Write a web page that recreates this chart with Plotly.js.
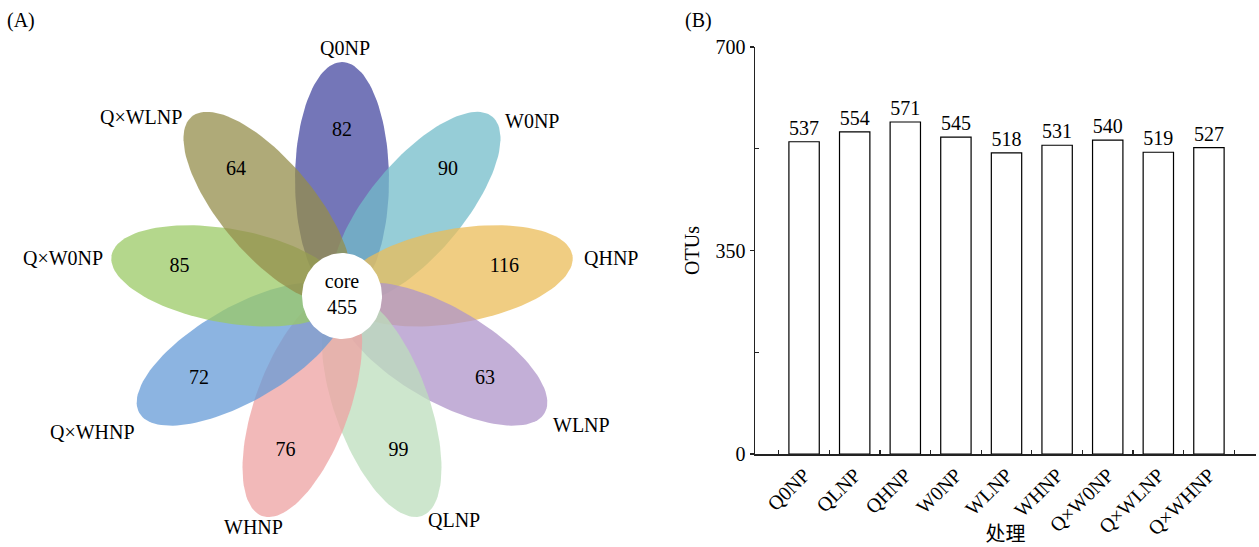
<!DOCTYPE html>
<html>
<head>
<meta charset="utf-8">
<script src="https://cdn.plot.ly/plotly-3.0.1.min.js"></script>
<style>html,body{margin:0;padding:0;background:#fff;}#chart{width:1259px;height:547px;}</style>
</head>
<body>
<div id="chart"></div>
<script>
// ---------- DATA ----------
const categories = ['Q0NP','QLNP','QHNP','W0NP','WLNP','WHNP','Q×W0NP','Q×WLNP','Q×WHNP'];
const otus = [537, 554, 571, 545, 518, 531, 540, 519, 527];
const petalNames = ['Q0NP','W0NP','QHNP','WLNP','QLNP','WHNP','Q×WHNP','Q×W0NP','Q×WLNP'];
const petalCounts = [82, 90, 116, 63, 99, 76, 72, 85, 64];
const coreLabel = 'core';
const coreCount = 455;

// ---------- STYLE / LAYOUT CONSTANTS ----------
const FONT = 'Liberation Serif, Times New Roman, Noto Sans CJK SC, serif';
const FS = 20;
const petalColors = [
  'rgba(70,72,160,0.75)',   // Q0NP
  'rgba(115,188,202,0.75)', // W0NP
  'rgba(235,188,88,0.75)',  // QHNP
  'rgba(175,148,202,0.75)', // WLNP
  'rgba(188,222,188,0.75)', // QLNP
  'rgba(238,162,162,0.75)', // WHNP
  'rgba(102,155,215,0.75)', // Q×WHNP
  'rgba(155,202,102,0.75)', // Q×W0NP
  'rgba(148,142,75,0.75)'   // Q×WLNP
];
const petalAngles = [90, 50, 10, -30, -70, -110, -150, 170, 130];
const PETAL_DIST = 116, PETAL_A = 118, PETAL_B = 47, NUM_R = 165;
const CORE_RX = 40, CORE_RY = 43;
// label placement relative to flower centre: [dx, dy, xanchor]
const labelLayout = [
  [3, 248, 'center'], [161, 175, 'left'], [240, 38, 'left'], [209, -129, 'left'],
  [112, -224, 'center'], [-89, -231, 'center'], [-205, -136, 'right'],
  [-237, 38, 'right'], [-158, 179, 'right']
];

const traces = [];
const rad = Math.PI / 180;
petalAngles.forEach((ang, i) => {
  const t = ang * rad;
  const cx = PETAL_DIST * Math.cos(t), cy = PETAL_DIST * Math.sin(t);
  const xs = [], ys = [];
  for (let k = 0; k <= 120; k++) {
    const p = 2 * Math.PI * k / 120;
    const ex = PETAL_A * Math.cos(p), ey = PETAL_B * Math.sin(p);
    xs.push(cx + ex * Math.cos(t) - ey * Math.sin(t));
    ys.push(cy + ex * Math.sin(t) + ey * Math.cos(t));
  }
  traces.push({type:'scatter', mode:'lines', x:xs, y:ys, fill:'toself',
    fillcolor: petalColors[i], line:{width:0}, xaxis:'x2', yaxis:'y2',
    hoverinfo:'skip', showlegend:false});
});
// core circle
{
  const xs = [], ys = [];
  for (let k = 0; k <= 120; k++) {
    const p = 2 * Math.PI * k / 120;
    xs.push(CORE_RX * Math.cos(p)); ys.push(CORE_RY * Math.sin(p));
  }
  traces.push({type:'scatter', mode:'lines', x:xs, y:ys, fill:'toself',
    fillcolor:'#ffffff', line:{width:0}, xaxis:'x2', yaxis:'y2',
    hoverinfo:'skip', showlegend:false});
}
// petal counts
traces.push({type:'scatter', mode:'text',
  x: petalAngles.map(a => NUM_R * Math.cos(a * rad)),
  y: petalAngles.map(a => NUM_R * Math.sin(a * rad)),
  text: petalCounts.map(String), textfont:{family:FONT, size:FS, color:'#000'},
  xaxis:'x2', yaxis:'y2', hoverinfo:'skip', showlegend:false});
// core text
traces.push({type:'scatter', mode:'text', x:[0], y:[0],
  text:[coreLabel + '<br>' + coreCount], textfont:{family:FONT, size:FS, color:'#000'},
  xaxis:'x2', yaxis:'y2', hoverinfo:'skip', showlegend:false});

// bar chart
traces.push({type:'bar', x:categories, y:otus, width:0.6,
  marker:{color:'#ffffff', line:{color:'#000', width:1.2}},
  text: otus.map(String), textposition:'outside', cliponaxis:false,
  textfont:{family:FONT, size:FS, color:'#000'},
  hoverinfo:'skip', showlegend:false});

const annotations = petalNames.map((n, i) => ({
  xref:'x2', yref:'y2', x: labelLayout[i][0], y: labelLayout[i][1],
  text: n, showarrow:false, xanchor: labelLayout[i][2], yanchor:'middle',
  font:{family:FONT, size:FS, color:'#000'}
}));
annotations.push({xref:'paper', yref:'paper', x:5/1259, y:1-20/547, text:'(A)',
  showarrow:false, xanchor:'left', yanchor:'middle', font:{family:FONT, size:FS, color:'#000'}});
annotations.push({xref:'paper', yref:'paper', x:683/1259, y:1-20/547, text:'(B)',
  showarrow:false, xanchor:'left', yanchor:'middle', font:{family:FONT, size:FS, color:'#000'}});

const layout = {
  width:1259, height:547, margin:{l:0, r:0, t:0, b:0},
  paper_bgcolor:'#fff', plot_bgcolor:'rgba(0,0,0,0)',
  font:{family:FONT, size:FS, color:'#000'},
  showlegend:false,
  xaxis:{domain:[755/1259, 1256/1259], range:[-0.97, 8.93], type:'category',
    showline:true, linecolor:'#222', linewidth:1.5, mirror:false,
    ticks:'inside', tickson:'boundaries', ticklen:4, tickcolor:'#222', tickwidth:1.2,
    tickangle:-45, tickfont:{family:FONT, size:FS, color:'#000'},
    showgrid:false, zeroline:false,
    title:{text:'处理', font:{family:'Noto Sans CJK SC, ' + FONT, size:FS, color:'#000'}, standoff:2}},
  yaxis:{domain:[1-454/547, 1-47/547], range:[0, 700], anchor:'x',
    showline:true, linecolor:'#222', linewidth:1.5,
    tickvals:[0, 350, 700], ticks:'outside', ticklen:4, tickcolor:'#222', tickwidth:1.2,
    minor:{tickvals:[175, 525], ticks:'inside', ticklen:4, tickcolor:'#222', tickwidth:1.2, showgrid:false},
    tickfont:{family:FONT, size:FS, color:'#000'},
    showgrid:false, zeroline:false,
    title:{text:'OTUs', font:{family:FONT, size:FS, color:'#000'}, standoff:10}},
  xaxis2:{domain:[0, 640/1259], range:[-342, 298], visible:false, fixedrange:true},
  yaxis2:{domain:[0, 1], range:[-251, 296], visible:false, anchor:'x2', fixedrange:true},
  annotations: annotations
};

Plotly.newPlot('chart', traces, layout, {staticPlot:true, displayModeBar:false});
</script>
</body>
</html>
